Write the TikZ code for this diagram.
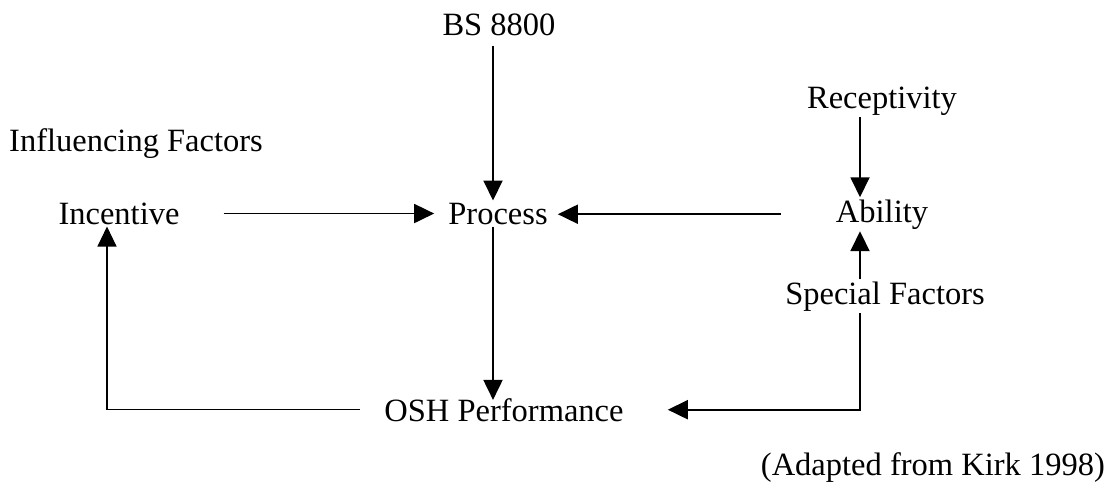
\documentclass[tikz,border=0pt]{standalone}
\usepackage{fontspec}
\setmainfont{Liberation Serif}
\usetikzlibrary{positioning, arrows, arrows.meta}

\tikzset{
  lbl/.style={anchor=base, inner sep=2pt, font=\fontsize{32.5}{38}\selectfont},
  arr/.style={-{Triangle[length=20pt,width=19pt]}, line width=1.9pt},
  back/.style={line width=1.1pt}
}

\begin{document}
\begin{tikzpicture}[x=1pt,y=-1pt]
\useasboundingbox (0,0) rectangle (1110,487);

\node[lbl] (bs) at (499,36) {BS 8800};
\node[lbl, anchor=base west] (influ) at (7,151) {Influencing Factors};
\node[lbl] (incentive) at (119,224) {Incentive};
\node[lbl] (process) at (498,224) {Process};
\node[lbl] (recept) at (882,108) {Receptivity};
\node[lbl] (ability) at (882,222) {Ability};
\node[lbl] (special) at (885,304) {Special Factors};
\node[lbl] (osh) at (504,421) {OSH Performance};
\node[lbl, anchor=base east] (source) at (1107,475) {(Adapted from Kirk 1998)};

\coordinate (colp) at (493,0);
\coordinate (colx) at (860,0);
\coordinate (colb) at (107,0);

\draw[arr, shorten <=7pt] (bs.south -| colp) -- (process.north -| colp);
\draw[arr, shorten >=-4pt] (process.south -| colp) -- (osh.north -| colp);
\draw[arr, shorten <=42pt, shorten >=12pt] (incentive.east |- process.west) -- (process.west);
\draw[arr, shorten <=53pt, shorten >=8pt] (ability.west) -- (process.east |- ability.west);
\draw[arr] (recept.south -| colx) -- (ability.north -| colx);
\draw[arr] (special.north -| colx) -- (ability.south -| colx);
\draw[arr] (special.south -| colx) |- ([xshift=42pt]osh.east);
\draw[back, -{Triangle[length=20pt,width=19pt]}] ([xshift=-22pt]osh.west) -| (incentive.south -| colb);
\end{tikzpicture}
\end{document}
